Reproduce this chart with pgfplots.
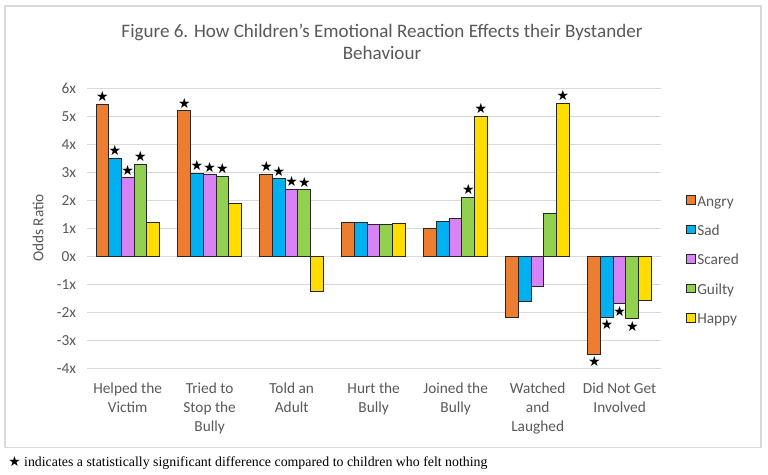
\documentclass[border=0pt]{standalone}
\usepackage{fontspec}
\setmainfont{Carlito}
\newfontfamily\footfont{Liberation Serif}
\newfontfamily\starfont{DejaVu Sans}
\usepackage{pgfplots}
\pgfplotsset{compat=1.18}
\definecolor{angry}{HTML}{ED7D31}
\definecolor{sad}{HTML}{00B0F0}
\definecolor{scared}{HTML}{D883F5}
\definecolor{guilty}{HTML}{92D050}
\definecolor{happy}{HTML}{FFDD00}
\definecolor{gridgray}{HTML}{D9D9D9}
\definecolor{textgray}{HTML}{595959}
\begin{document}
\begin{tikzpicture}
\useasboundingbox (0,0) rectangle (576pt,356.25pt);
\fill[white] (0,0) rectangle (576pt,356.25pt);
\draw[color=gridgray, line width=0.9pt] (3.75pt,20.5pt) rectangle (570.75pt,351.75pt);
\node[anchor=base, align=center, text=textgray, font=\fontsize{14.3}{16.5}\selectfont] at (286.5pt,311.25pt)
  {Figure 6. How Children's Emotional Reaction Effects their Bystander\\Behaviour};
\node[rotate=90, text=textgray, font=\fontsize{11.5}{14}\selectfont] at (28.5pt,185.25pt) {Odds Ratio};
\node[anchor=base west, font=\footfont\fontsize{10.4}{12}\selectfont, inner sep=0pt] at (6pt,6pt)
  {{\starfont ★} indicates a statistically significant difference compared to children who felt nothing};
\begin{axis}[
  at={(65pt,80pt)}, anchor=south west,
  scale only axis, width=430.5pt, height=210pt,
  ybar=0pt, bar width=9.5pt,
  xmin=-0.5, xmax=6.5, ymin=-4, ymax=6,
  xtick={0,...,6},
  xticklabels={Helped the\\Victim, Tried to\\Stop the\\Bully, Told an\\Adult, Hurt the\\Bully, Joined the\\Bully, Watched\\and\\Laughed, Did Not Get\\Involved},
  ytick={-4,...,6},
  yticklabels={-4x,-3x,-2x,-1x,0x,1x,2x,3x,4x,5x,6x},
  ymajorgrids, grid style={draw=gridgray, line width=1.1pt},
  axis line style={draw=none}, major tick length=0pt,
  tick label style={font=\fontsize{11.5}{14.5}\selectfont, text=textgray},
  xticklabel style={align=center, yshift=-7pt},
  yticklabel style={xshift=-4.5pt},
  point meta=explicit symbolic,
  visualization depends on={rawy \as \rawy},
  nodes near coords={\starfont\pgfplotspointmeta},
  every node near coord/.append style={font=\fontsize{10.5}{10.5}\selectfont, text=black, inner sep=1.5pt,
    /utils/exec={\ifdim\rawy pt<0pt \gdef\myanchor{north}\else\gdef\myanchor{south}\fi},
    anchor=\myanchor},
  legend style={at={(1.037,0.633)}, anchor=north west, draw=none, fill=none,
    font=\fontsize{11.5}{13}\selectfont, text=textgray, row sep=9.6pt,
    nodes={inner sep=1pt, text height=8pt, text depth=2.5pt}},
  legend cell align=left,
  legend image code/.code={\draw[#1,/tikz/.cd,draw=black!85,line width=0.75pt] (0pt,-1.6pt) rectangle (6.6pt,5pt);},
  every axis plot/.append style={draw=black!85, line width=0.75pt},
]
\addplot[fill=angry] coordinates {(0,5.43)[★] (1,5.20)[★] (2,2.93)[★] (3,1.22)[{}] (4,0.98)[{}] (5,-2.18)[{}] (6,-3.50)[★]};
\addplot[fill=sad] coordinates {(0,3.51)[★] (1,2.97)[★] (2,2.77)[★] (3,1.22)[{}] (4,1.25)[{}] (5,-1.63)[{}] (6,-2.17)[★]};
\addplot[fill=scared] coordinates {(0,2.80)[★] (1,2.92)[★] (2,2.39)[★] (3,1.15)[{}] (4,1.36)[{}] (5,-1.06)[{}] (6,-1.70)[★]};
\addplot[fill=guilty] coordinates {(0,3.28)[★] (1,2.85)[★] (2,2.38)[★] (3,1.13)[{}] (4,2.11)[★] (5,1.52)[{}] (6,-2.23)[★]};
\addplot[fill=happy] coordinates {(0,1.22)[{}] (1,1.90)[{}] (2,-1.24)[{}] (3,1.17)[{}] (4,5.01)[★] (5,5.47)[★] (6,-1.56)[{}]};
\legend{Angry,Sad,Scared,Guilty,Happy}
\end{axis}
\end{tikzpicture}
\end{document}
